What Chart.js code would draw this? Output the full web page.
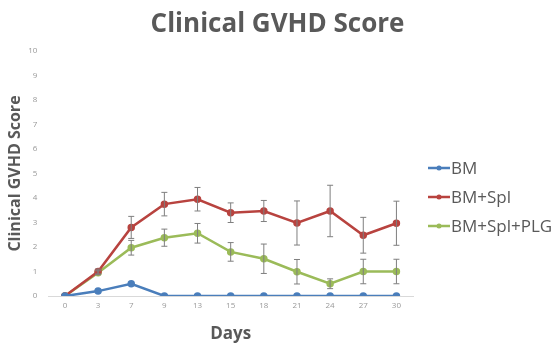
<!DOCTYPE html>
<html>
<head>
  <meta charset="utf-8" />
  <script src="https://cdn.jsdelivr.net/npm/chart.js@4"></script>
  <style>
    body { margin: 0; background: #fff; }
    #wrap { width: 555px; height: 344px; }
  </style>
</head>
<body>
  <div id="wrap"><canvas id="chart-gvhd"></canvas></div>
<script>
  // data
  var days = ['0', '3', '7', '9', '13', '15', '18', '21', '24', '27', '30'];
  var bm = [0, 0.2, 0.5, 0, 0, 0, 0, 0, 0, 0, 0];
  var bmSpl = [0, 1.0, 2.8, 3.75, 3.95, 3.4, 3.47, 2.98, 3.47, 2.48, 2.97];
  var bmSplErr = [0, 0.1, 0.45, 0.48, 0.48, 0.4, 0.43, 0.9, 1.05, 0.73, 0.9];
  var bmSplPlg = [0, 0.95, 1.97, 2.38, 2.56, 1.8, 1.52, 0.99, 0.5, 1.0, 1.0];
  var bmSplPlgErr = [0, 0.08, 0.3, 0.35, 0.4, 0.38, 0.6, 0.5, 0.2, 0.5, 0.5];
  var chartTitle = 'Clinical GVHD Score';

  var grey = '#595959';

  // error bars, drawn through the chart scales
  var errorBars = {
    id: 'errorBars',
    afterDatasetsDraw: function (chart) {
      var ctx = chart.ctx;
      var y = chart.scales.y;
      ctx.save();
      ctx.strokeStyle = '#7f7f7f';
      ctx.lineWidth = 1;
      chart.data.datasets.forEach(function (ds, i) {
        if (!ds.errors) return;
        var meta = chart.getDatasetMeta(i);
        meta.data.forEach(function (pt, j) {
          var e = ds.errors[j];
          if (!e) return;
          var top = y.getPixelForValue(ds.data[j] + e);
          var bot = y.getPixelForValue(ds.data[j] - e);
          ctx.beginPath();
          ctx.moveTo(pt.x, top); ctx.lineTo(pt.x, bot);
          ctx.moveTo(pt.x - 3, top); ctx.lineTo(pt.x + 3, top);
          ctx.moveTo(pt.x - 3, bot); ctx.lineTo(pt.x + 3, bot);
          ctx.stroke();
        });
      });
      ctx.restore();
    }
  };

  // title centred on the whole canvas + excel style legend on the right
  var sideBits = {
    id: 'sideBits',
    afterDraw: function (chart) {
      var ctx = chart.ctx;
      ctx.save();
      ctx.fillStyle = grey;
      ctx.font = 'bold 26px "Open Sans"';
      ctx.textAlign = 'center';
      ctx.textBaseline = 'alphabetic';
      ctx.fillText(chartTitle, chart.width / 2, 32);

      var x0 = chart.chartArea.right + 15;
      ctx.font = '17px "Open Sans"';
      ctx.textAlign = 'left';
      ctx.textBaseline = 'middle';
      chart.data.datasets.forEach(function (ds, i) {
        var yy = 168 + i * 29;
        ctx.strokeStyle = ds.borderColor;
        ctx.lineWidth = 2.5;
        ctx.beginPath();
        ctx.moveTo(x0, yy); ctx.lineTo(x0 + 22, yy);
        ctx.stroke();
        ctx.fillStyle = ds.borderColor;
        ctx.beginPath();
        ctx.arc(x0 + 11, yy, 2.5, 0, Math.PI * 2);
        ctx.fill();
        ctx.fillStyle = grey;
        ctx.fillText(ds.label, x0 + 23, yy + 1);
      });
      ctx.restore();
    }
  };

  function series(label, data, errors, color) {
    return {
      label: label,
      data: data,
      errors: errors,
      borderColor: color,
      backgroundColor: color,
      borderWidth: 2.5,
      pointRadius: 2.5,
      pointHoverRadius: 3,
      tension: 0
    };
  }

  new Chart(document.getElementById('chart-gvhd'), {
    type: 'line',
    data: {
      labels: days,
      datasets: [
        series('BM', bm, null, '#4a7ebb'),
        series('BM+Spl', bmSpl, bmSplErr, '#b8433f'),
        series('BM+Spl+PLG', bmSplPlg, bmSplPlgErr, '#9bbb59')
      ]
    },
    options: {
      responsive: true,
      maintainAspectRatio: false,
      animation: false,
      layout: { padding: { left: 6, right: 142, top: 51, bottom: 0 } },
      scales: {
        x: {
          offset: true,
          grid: { display: false, drawTicks: false },
          border: { color: '#d9d9d9' },
          ticks: { color: '#999999', font: { size: 8, family: 'Open Sans' }, padding: 5 },
          title: { display: true, text: 'Days', color: grey, font: { size: 17, weight: 'bold', family: 'Open Sans' }, padding: { top: 8, bottom: 0 } }
        },
        y: {
          min: 0,
          max: 10,
          grid: { display: false },
          border: { display: false },
          ticks: { stepSize: 1, color: '#999999', font: { size: 8, family: 'Open Sans' }, padding: 3 },
          title: { display: true, text: 'Clinical GVHD Score', color: grey, font: { size: 16, weight: 'bold', family: 'Open Sans' }, padding: { top: 0, bottom: 0 } }
        }
      },
      plugins: {
        title: { display: false },
        legend: { display: false },
        tooltip: { enabled: false }
      }
    },
    plugins: [errorBars, sideBits]
  });
</script>
</body>
</html>
